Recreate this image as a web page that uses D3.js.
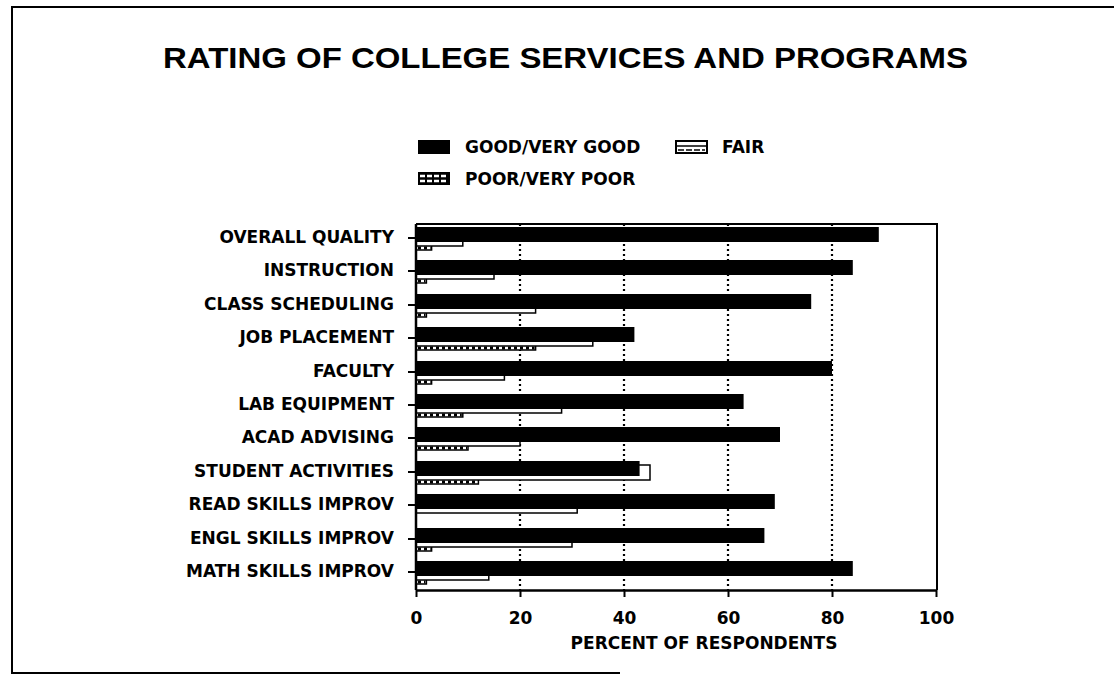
<!DOCTYPE html>
<html>
<head>
<meta charset="utf-8">
<script src="https://cdn.jsdelivr.net/npm/d3@7"></script>
<style>
  body { margin: 0; background: #fff; }
  svg { display: block; }
  .lbl { font-family: "DejaVu Sans", sans-serif; font-weight: bold; font-size: 17px; fill: #000; }
</style>
</head>
<body>
<div id="chart"></div>
<script>
// Data (percent of respondents)
const categories = [
    "OVERALL QUALITY", "INSTRUCTION", "CLASS SCHEDULING", "JOB PLACEMENT",
    "FACULTY", "LAB EQUIPMENT", "ACAD ADVISING", "STUDENT ACTIVITIES",
    "READ SKILLS IMPROV", "ENGL SKILLS IMPROV", "MATH SKILLS IMPROV"
];
const goodValues = [89, 84, 76, 42, 80, 63, 70, 43, 69, 67, 84];
const fairValues = [9, 15, 23, 34, 17, 28, 20, 45, 31, 30, 14];
const poorValues = [3, 2, 2, 23, 3, 9, 10, 12, 0, 3, 2];
const seriesNames = ["GOOD/VERY GOOD", "FAIR", "POOR/VERY POOR"];
const xTicks = [0, 20, 40, 60, 80, 100];
const gridTicks = [20, 40, 60, 80];
const chartTitle = "RATING OF COLLEGE SERVICES AND PROGRAMS";
const xTitle = "PERCENT OF RESPONDENTS";

const width = 1114, height = 676;
const plot = { left: 416, right: 937, top: 224, bottom: 590 };

const svg = d3.select("#chart")
    .append("svg")
    .attr("width", width)
    .attr("height", height);

// scanned page border (top, left, partial bottom)
svg.append("path")
    .attr("d", "M1114,7 L12,7 L12,673 L620,673")
    .attr("fill", "none")
    .attr("stroke", "#000")
    .attr("stroke-width", 2);

// Title
svg.append("text")
    .attr("class", "lbl")
    .attr("x", 163)
    .attr("y", 68)
    .attr("textLength", 805)
    .attr("lengthAdjust", "spacingAndGlyphs")
    .style("font-family", "'Liberation Sans', Arial, sans-serif")
    .style("font-size", "30px")
    .text(chartTitle);

// Scales
const x = d3.scaleLinear()
    .domain([0, 100])
    .range([plot.left, plot.right - 1]);

const y = d3.scaleBand()
    .domain(categories)
    .range([221, 589])
    .paddingInner(0)
    .paddingOuter(0);

const yc = d => Math.round(y(d) + y.bandwidth() / 2);

// Gridlines (dotted)
svg.append("g")
    .selectAll("line")
    .data(gridTicks)
    .enter()
    .append("line")
    .attr("x1", d => x(d))
    .attr("x2", d => x(d))
    .attr("y1", plot.top)
    .attr("y2", plot.bottom)
    .attr("stroke", "#000")
    .attr("stroke-width", 2.2)
    .attr("stroke-dasharray", "2,3");

// Bars: drawn back to front -> poor, fair, good (overlapping, offset down)
const barH = 15;
const poorG = svg.append("g");
poorG.selectAll("rect")
    .data(categories.filter((c, i) => poorValues[i] > 0))
    .enter()
    .append("rect")
    .attr("x", x(0))
    .attr("y", d => yc(d) - 3)
    .attr("width", d => x(poorValues[categories.indexOf(d)]) - x(0))
    .attr("height", barH)
    .attr("fill", "#fff")
    .attr("stroke", "#000")
    .attr("stroke-width", 1.5);
poorG.selectAll("line")
    .data(categories.filter((c, i) => poorValues[i] > 0))
    .enter()
    .append("line")
    .attr("x1", x(0) + 2)
    .attr("x2", d => x(poorValues[categories.indexOf(d)]) - 1)
    .attr("y1", d => yc(d) + 10)
    .attr("y2", d => yc(d) + 10)
    .attr("stroke", "#000")
    .attr("stroke-width", 3)
    .attr("stroke-dasharray", "3,3");

svg.append("g")
    .selectAll("rect")
    .data(categories)
    .enter()
    .append("rect")
    .attr("x", x(0))
    .attr("y", d => yc(d) - 7)
    .attr("width", (d, i) => x(fairValues[i]) - x(0))
    .attr("height", barH)
    .attr("fill", "#fff")
    .attr("stroke", "#000")
    .attr("stroke-width", 1.5);

svg.append("g")
    .selectAll("rect")
    .data(categories)
    .enter()
    .append("rect")
    .attr("x", x(0))
    .attr("y", d => yc(d) - 11)
    .attr("width", (d, i) => x(goodValues[i]) - x(0))
    .attr("height", barH)
    .attr("fill", "#000");

// Plot frame (top and right edges)
svg.append("path")
    .attr("d", `M${plot.left},${plot.top} L${plot.right},${plot.top} L${plot.right},${plot.bottom}`)
    .attr("fill", "none")
    .attr("stroke", "#000")
    .attr("stroke-width", 2);

// Axes
const xAxis = svg.append("g")
    .attr("transform", `translate(0,${plot.bottom})`)
    .call(d3.axisBottom(x).tickValues(xTicks).tickSize(7).tickSizeOuter(0).tickPadding(15));

const yAxis = svg.append("g")
    .attr("transform", `translate(${plot.left},0)`)
    .call(d3.axisLeft(y).tickSize(8).tickSizeOuter(0).tickPadding(14));

[xAxis, yAxis].forEach(a => {
    a.select(".domain").attr("stroke", "#000").attr("stroke-width", 2.5);
    a.selectAll(".tick line").attr("stroke", "#000").attr("stroke-width", 2);
    a.selectAll(".tick text")
        .attr("class", "lbl")
        .attr("fill", "#000");
});
yAxis.select(".domain").attr("d", `M0,${plot.top}V${plot.bottom}`);
yAxis.selectAll(".tick")
    .attr("transform", d => `translate(0,${yc(d)})`);

// X axis title
svg.append("text")
    .attr("class", "lbl")
    .attr("x", 704)
    .attr("y", 649)
    .attr("text-anchor", "middle")
    .text(xTitle);

// Legend
const legend = svg.append("g");
// good swatch
legend.append("rect")
    .attr("x", 418).attr("y", 140).attr("width", 32).attr("height", 14)
    .attr("fill", "#000");
// fair swatch
legend.append("rect")
    .attr("x", 676).attr("y", 141).attr("width", 31).attr("height", 12)
    .attr("fill", "#fff").attr("stroke", "#000").attr("stroke-width", 2);
legend.append("line")
    .attr("x1", 676).attr("x2", 707).attr("y1", 146).attr("y2", 146)
    .attr("stroke", "#000").attr("stroke-width", 1.5);
legend.append("line")
    .attr("x1", 678).attr("x2", 705).attr("y1", 150).attr("y2", 150)
    .attr("stroke", "#000").attr("stroke-width", 1.5).attr("stroke-dasharray", "6,2");
// poor swatch
legend.append("rect")
    .attr("x", 418).attr("y", 172).attr("width", 32).attr("height", 13)
    .attr("fill", "#000");
[176, 181].forEach(ly => {
    legend.append("line")
        .attr("x1", 420).attr("x2", 448).attr("y1", ly).attr("y2", ly)
        .attr("stroke", "#fff").attr("stroke-width", 2.5).attr("stroke-dasharray", "5,2");
});

const legendText = [
    { name: seriesNames[0], x: 465, y: 147 },
    { name: seriesNames[1], x: 722, y: 147 },
    { name: seriesNames[2], x: 465, y: 179 }
];
legend.selectAll("text.leg")
    .data(legendText)
    .enter()
    .append("text")
    .attr("class", "lbl")
    .attr("x", d => d.x)
    .attr("y", d => d.y)
    .attr("dy", "0.36em")
    .text(d => d.name);
</script>
</body>
</html>
